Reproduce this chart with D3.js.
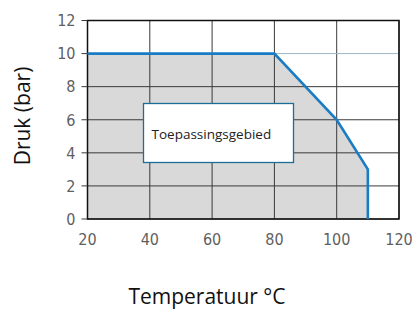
<!DOCTYPE html>
<html>
<head>
<meta charset="utf-8">
<script src="https://cdnjs.cloudflare.com/ajax/libs/d3/7.8.5/d3.min.js"></script>
<style>
  body { margin: 0; background: #fff; }
</style>
</head>
<body>
<svg id="chart"></svg>
<script>
const width = 412;
const height = 309;

// grenslijn toepassingsgebied
const temps = [20, 80, 100, 110, 110];
const druk = [10, 10, 6, 3, 0];

const xTicks = [20, 40, 60, 80, 100, 120];
const yTicks = [0, 2, 4, 6, 8, 10, 12];

const margin = { left: 87.5, right: 13, top: 20.5, bottom: 90 };

const svg = d3.select("#chart")
    .attr("width", width)
    .attr("height", height);

const x = d3.scaleLinear().domain([20, 120]).range([margin.left, width - margin.right]);
const y = d3.scaleLinear().domain([0, 12]).range([height - margin.bottom, margin.top]);

const pts = temps.map((t, i) => [t, druk[i]]);

const tickFont = "'Liberation Sans Narrow', 'DejaVu Sans Condensed', sans-serif";

// grijze vlak
const area = d3.area()
    .x(d => x(d[0]))
    .y0(y(0))
    .y1(d => y(d[1]));
svg.append("path")
    .datum(pts)
    .attr("d", area)
    .attr("fill", "#d9d9d9");

// rasterlijnen
svg.append("g")
    .selectAll("line")
    .data(xTicks)
    .enter().append("line")
    .attr("x1", d => x(d)).attr("x2", d => x(d))
    .attr("y1", y(0)).attr("y2", y(12))
    .attr("stroke", "#3a3a3a")
    .attr("stroke-width", 1);

svg.append("g")
    .selectAll("line")
    .data(yTicks)
    .enter().append("line")
    .attr("x1", x(20)).attr("x2", x(120))
    .attr("y1", d => y(d)).attr("y2", d => y(d))
    .attr("stroke", d => d === 10 ? "#9fb6c4" : "#3a3a3a")
    .attr("stroke-width", 1);

// kader
svg.append("rect")
    .attr("x", x(20)).attr("y", y(12))
    .attr("width", x(120) - x(20))
    .attr("height", y(0) - y(12))
    .attr("fill", "none")
    .attr("stroke", "#111")
    .attr("stroke-width", 1.5);

// korte tickstreepjes links
svg.append("g")
    .selectAll("line")
    .data(yTicks)
    .enter().append("line")
    .attr("x1", x(20) - 6).attr("x2", x(20))
    .attr("y1", d => y(d)).attr("y2", d => y(d))
    .attr("stroke", "#3a3a3a");

// blauwe lijn
svg.append("path")
    .datum(pts)
    .attr("d", d3.line().x(d => x(d[0])).y(d => y(d[1])))
    .attr("fill", "none")
    .attr("stroke", "#1a7cc4")
    .attr("stroke-width", 2.6);

// tick labels
svg.append("g")
    .selectAll("text")
    .data(yTicks)
    .enter().append("text")
    .attr("x", x(20) - 12)
    .attr("y", d => y(d))
    .attr("dy", "0.36em")
    .attr("text-anchor", "end")
    .attr("font-family", tickFont)
    .attr("font-size", "16px")
    .attr("fill", "#5f5f5f")
    .text(d => d);

svg.append("g")
    .selectAll("text")
    .data(xTicks)
    .enter().append("text")
    .attr("x", d => x(d))
    .attr("y", y(0) + 26)
    .attr("text-anchor", "middle")
    .attr("font-family", tickFont)
    .attr("font-size", "16px")
    .attr("fill", "#5f5f5f")
    .text(d => d);

// label box
svg.append("rect")
    .attr("x", 143.5).attr("y", 103.5)
    .attr("width", 150).attr("height", 59)
    .attr("fill", "#fff")
    .attr("stroke", "#1b6f96")
    .attr("stroke-width", 1.3);

svg.append("text")
    .attr("x", 151.5)
    .attr("y", 139)
    .attr("font-family", "'Open Sans', sans-serif")
    .attr("font-size", "13.5px")
    .attr("fill", "#222")
    .text("Toepassingsgebied");

// as titels
svg.append("text")
    .attr("transform", `translate(30,116) rotate(-90)`)
    .attr("text-anchor", "middle")
    .attr("font-family", "'Open Sans', sans-serif")
    .attr("font-size", "21px")
    .attr("fill", "#111")
    .text("Druk (bar)");

svg.append("text")
    .attr("x", 207)
    .attr("y", 304)
    .attr("text-anchor", "middle")
    .attr("font-family", "'Open Sans', sans-serif")
    .attr("font-size", "21px")
    .attr("fill", "#111")
    .text("Temperatuur °C");
</script>
</body>
</html>
